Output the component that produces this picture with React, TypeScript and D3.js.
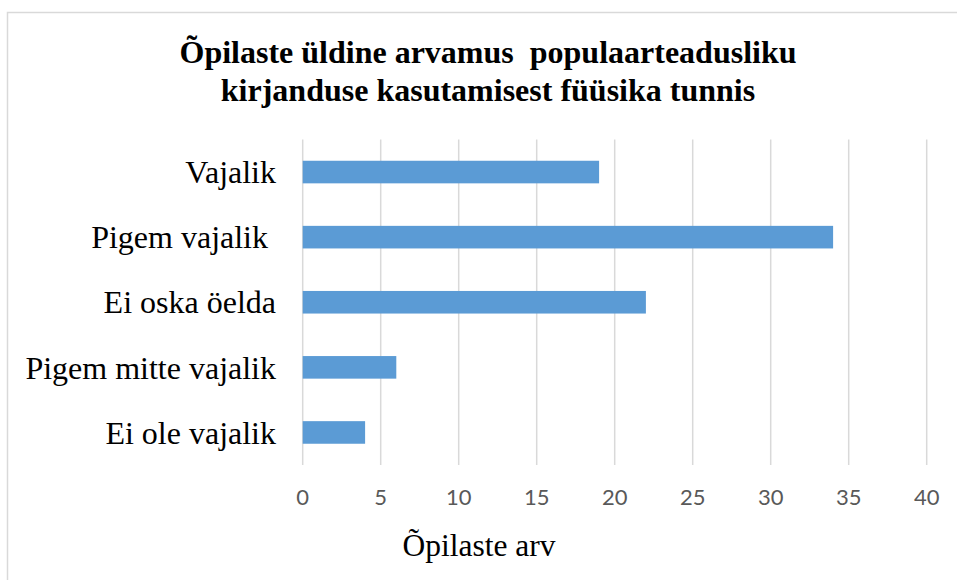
import React from "react";
import * as d3 from "d3";

const categories = [
  "Vajalik",
  "Pigem vajalik ",
  "Ei oska öelda",
  "Pigem mitte vajalik",
  "Ei ole vajalik",
];
const values = [19, 34, 22, 6, 4];
const xTicks = [0, 5, 10, 15, 20, 25, 30, 35, 40];
const titleLines = [
  "Õpilaste üldine arvamus  populaarteadusliku",
  "kirjanduse kasutamisest füüsika tunnis",
];
const axisTitle = "Õpilaste arv";

const W = 957;
const H = 580;

export default function App() {
  const x = d3.scaleLinear().domain([0, 40]).range([302.7, 926.7]);
  const y = d3
    .scaleBand<string>()
    .domain(categories)
    .range([139.5, 465])
    .paddingInner(0.653)
    .paddingOuter(0.3265);
  const serif = "'Liberation Serif', 'Times New Roman', serif";
  return (
    <svg
      width={W}
      height={H}
      style={{ position: "absolute", left: 0, top: 0, background: "#fff" }}
    >
      <rect x={7.5} y={12.5} width={1000} height={700} fill="#fff" stroke="#d9d9d9" strokeWidth={1.5} />
      {titleLines.map((t, i) => (
        <text
          key={i}
          x={488}
          y={63 + i * 38}
          textAnchor="middle"
          fontFamily={serif}
          fontWeight="bold"
          fontSize={32}
          style={{ whiteSpace: "pre" }}
          fill="#000"
        >
          {t}
        </text>
      ))}
      {xTicks.map((t) => (
        <line
          key={t}
          x1={x(t)}
          x2={x(t)}
          y1={139.5}
          y2={465}
          stroke="#d9d9d9"
          strokeWidth={1.5}
        />
      ))}
      {categories.map((c, i) => (
        <rect
          key={c}
          x={x(0)}
          y={y(c)}
          width={x(values[i]) - x(0)}
          height={y.bandwidth()}
          fill="#5b9bd5"
        />
      ))}
      {categories.map((c) => (
        <text
          key={c}
          x={276}
          y={(y(c) as number) + y.bandwidth() / 2}
          dy="0.35em"
          textAnchor="end"
          fontFamily={serif}
          fontSize={32}
          style={{ whiteSpace: "pre" }}
          fill="#000"
        >
          {c}
        </text>
      ))}
      {xTicks.map((t) => (
        <text
          key={t}
          x={x(t)}
          y={505}
          textAnchor="middle"
          fontFamily="Lato, 'Noto Sans', sans-serif"
          fontSize={22}
          fill="#595959"
        >
          {t}
        </text>
      ))}
      <text
        x={479}
        y={556}
        textAnchor="middle"
        fontFamily={serif}
        fontSize={31.5}
        fill="#000"
      >
        {axisTitle}
      </text>
    </svg>
  );
}
